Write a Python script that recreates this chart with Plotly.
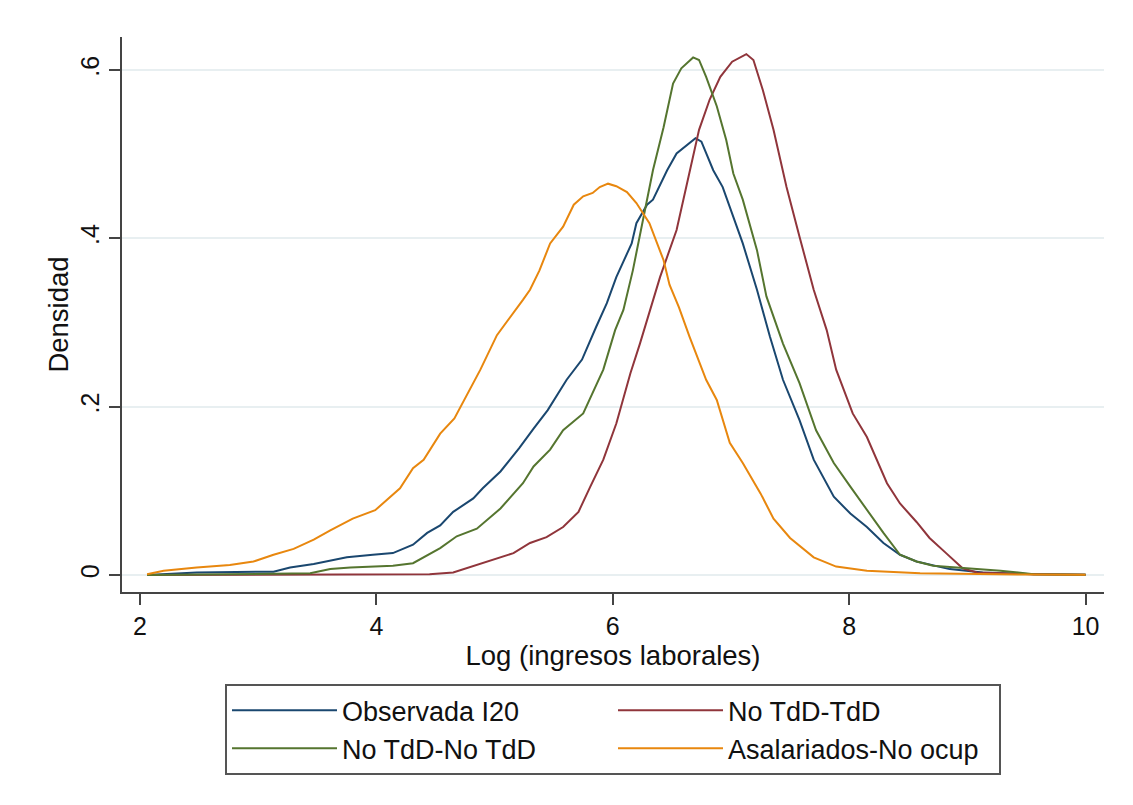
import plotly.graph_objects as go

# --- data ---
obs_x = [2.06, 2.48, 3.13, 3.27, 3.47, 3.61, 3.75, 3.97, 4.14, 4.31, 4.43, 4.54, 4.65, 4.82, 4.90, 5.05,
         5.21, 5.33, 5.45, 5.61, 5.74, 5.86, 5.95, 6.03, 6.16, 6.20, 6.29, 6.34, 6.46, 6.54, 6.61, 6.70,
         6.75, 6.85, 6.93, 7.02, 7.10, 7.22, 7.33, 7.44, 7.58, 7.70, 7.87, 8.01, 8.15, 8.29, 8.43, 8.57,
         8.85, 9.13, 9.56, 10.0]
obs_y = [0.000, 0.003, 0.004, 0.009, 0.013, 0.017, 0.021, 0.024, 0.026, 0.036, 0.050, 0.059, 0.075, 0.091,
         0.103, 0.123, 0.151, 0.174, 0.196, 0.232, 0.256, 0.295, 0.323, 0.354, 0.394, 0.418, 0.440, 0.446,
         0.481, 0.501, 0.509, 0.519, 0.515, 0.481, 0.461, 0.426, 0.394, 0.339, 0.283, 0.232, 0.184, 0.137,
         0.093, 0.073, 0.057, 0.038, 0.024, 0.016, 0.007, 0.003, 0.001, 0.0003]

tdd_x = [2.06, 4.45, 4.65, 4.85, 5.02, 5.16, 5.30, 5.44, 5.58, 5.71, 5.81, 5.92, 6.03, 6.15, 6.23, 6.34,
         6.40, 6.54, 6.62, 6.73, 6.82, 6.91, 7.01, 7.13, 7.19, 7.27, 7.36, 7.47, 7.58, 7.70, 7.81, 7.89,
         8.03, 8.15, 8.32, 8.43, 8.57, 8.68, 8.82, 8.96, 9.08, 9.56, 10.0]
tdd_y = [0.000, 0.001, 0.003, 0.012, 0.020, 0.026, 0.038, 0.045, 0.057, 0.075, 0.105, 0.137, 0.180, 0.240,
         0.275, 0.327, 0.354, 0.410, 0.461, 0.529, 0.565, 0.592, 0.610, 0.619, 0.612, 0.576, 0.529, 0.461,
         0.402, 0.339, 0.291, 0.244, 0.192, 0.164, 0.109, 0.085, 0.063, 0.044, 0.026, 0.008, 0.003, 0.001,
         0.0003]

notdd_x = [2.06, 3.04, 3.44, 3.61, 3.78, 4.14, 4.31, 4.54, 4.68, 4.85, 5.05, 5.24, 5.33, 5.47, 5.58, 5.75,
           5.92, 6.02, 6.09, 6.17, 6.26, 6.34, 6.43, 6.51, 6.58, 6.68, 6.73, 6.79, 6.88, 6.96, 7.02, 7.10,
           7.22, 7.30, 7.44, 7.58, 7.72, 7.87, 8.01, 8.15, 8.29, 8.43, 8.57, 8.71, 8.99, 9.28, 9.56, 10.0]
notdd_y = [0.000, 0.001, 0.002, 0.007, 0.009, 0.011, 0.014, 0.032, 0.046, 0.055, 0.079, 0.109, 0.129, 0.149,
           0.172, 0.192, 0.244, 0.291, 0.315, 0.362, 0.426, 0.481, 0.532, 0.584, 0.602, 0.615, 0.612, 0.592,
           0.557, 0.517, 0.477, 0.446, 0.386, 0.331, 0.275, 0.228, 0.172, 0.133, 0.105, 0.077, 0.050, 0.024,
           0.016, 0.011, 0.008, 0.005, 0.001, 0.0003]

asal_x = [2.06, 2.20, 2.48, 2.76, 2.96, 3.13, 3.30, 3.47, 3.61, 3.80, 3.99, 4.20, 4.31, 4.40, 4.54, 4.66,
          4.88, 5.02, 5.24, 5.30, 5.38, 5.47, 5.58, 5.67, 5.75, 5.83, 5.89, 5.96, 6.03, 6.12, 6.20, 6.31,
          6.43, 6.48, 6.56, 6.65, 6.79, 6.88, 6.99, 7.10, 7.25, 7.36, 7.50, 7.70, 7.89, 8.15, 8.60, 9.00,
          9.50, 10.0]
asal_y = [0.001, 0.005, 0.009, 0.012, 0.016, 0.024, 0.031, 0.042, 0.053, 0.067, 0.077, 0.103, 0.127, 0.137,
          0.168, 0.186, 0.244, 0.285, 0.327, 0.339, 0.362, 0.394, 0.414, 0.440, 0.450, 0.454, 0.461, 0.465,
          0.462, 0.455, 0.442, 0.418, 0.374, 0.345, 0.318, 0.283, 0.232, 0.208, 0.157, 0.133, 0.097, 0.067,
          0.044, 0.021, 0.010, 0.005, 0.002, 0.001, 0.0005, 0.0003]

names = ["Observada I20", "No TdD-TdD", "No TdD-No TdD", "Asalariados-No ocup"]
colors = ["#1a476f", "#90353b", "#55752f", "#e8870e"]

x_ticks = [2, 4, 6, 8, 10]
y_ticks = [0, 0.2, 0.4, 0.6]
y_ticktext = ["0", ".2", ".4", ".6"]

FONT = "Liberation Sans, Arial, sans-serif"
TXT = "#111111"

fig = go.Figure()
for xs, ys, nm, c in zip([obs_x, tdd_x, notdd_x, asal_x], [obs_y, tdd_y, notdd_y, asal_y], names, colors):
    fig.add_trace(go.Scatter(x=xs, y=ys, mode="lines", name=nm,
                             line=dict(color=c, width=2)))

fig.update_layout(
    width=1133, height=805,
    paper_bgcolor="white", plot_bgcolor="white",
    margin=dict(l=114, r=37, t=29, b=221),
    font=dict(family=FONT, size=25, color=TXT),
    showlegend=True,
    legend=dict(orientation="h", x=0.5, xanchor="center", y=-0.166, yanchor="top",
                bordercolor="#555555", borderwidth=2, bgcolor="white",
                entrywidth=266, itemwidth=105, traceorder="normal",
                font=dict(family=FONT, size=27, color=TXT)),
    xaxis=dict(range=[1.848, 10.156], tickvals=x_ticks, ticks="outside", ticklen=11,
               tickwidth=1.5, tickcolor="#444444", showline=True, linecolor="#444444",
               linewidth=1.5, showgrid=False, zeroline=False,
               tickfont=dict(family=FONT, size=25, color=TXT),
               title=dict(text="Log (ingresos laborales)", standoff=4,
                          font=dict(family=FONT, size=27.5, color=TXT))),
    yaxis=dict(range=[-0.0202, 0.6393], tickvals=y_ticks, ticktext=y_ticktext, tickangle=-90,
               ticks="outside", ticklen=11, tickwidth=1.5, tickcolor="#444444",
               showline=True, linecolor="#444444", linewidth=1.5,
               showgrid=True, gridcolor="#e8eff1", gridwidth=1.5, zeroline=False,
               tickfont=dict(family=FONT, size=25, color=TXT),
               title=dict(text="Densidad", standoff=0,
                          font=dict(family=FONT, size=27.5, color=TXT))),
)

fig.write_html("out.html")
